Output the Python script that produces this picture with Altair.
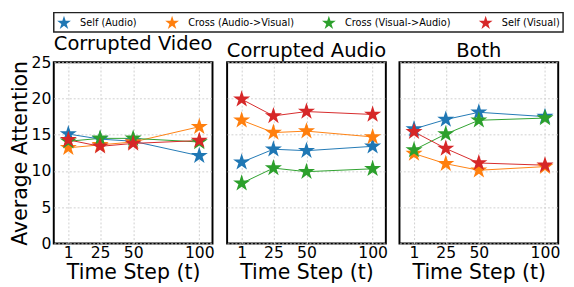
import altair as alt
import pandas as pd

panels = ["Corrupted Video", "Corrupted Audio", "Both"]
series = ["Self (Audio)", "Cross (Audio->Visual)", "Cross (Visual->Audio)", "Self (Visual)"]
colors = ["#1f77b4", "#ff7f0e", "#2ca02c", "#d62728"]
steps = [1, 25, 50, 100]
y_ticks = [0, 5, 10, 15, 20, 25]

video_self_audio = [15.1, 14.4, 14.1, 12.1]
video_cross_av = [13.2, 13.6, 14.0, 16.1]
video_cross_va = [14.1, 14.5, 14.5, 14.0]
video_self_visual = [14.3, 13.4, 13.8, 14.2]

audio_self_audio = [11.2, 13.0, 12.8, 13.4]
audio_cross_av = [17.0, 15.3, 15.5, 14.7]
audio_cross_va = [8.3, 10.4, 9.9, 10.3]
audio_self_visual = [19.9, 17.6, 18.2, 17.8]

both_self_audio = [15.8, 17.1, 18.1, 17.5]
both_cross_av = [12.4, 11.0, 10.1, 10.6]
both_cross_va = [12.9, 15.1, 17.0, 17.3]
both_self_visual = [15.4, 13.1, 11.1, 10.8]

panel_values = {
    "Corrupted Video": [video_self_audio, video_cross_av, video_cross_va, video_self_visual],
    "Corrupted Audio": [audio_self_audio, audio_cross_av, audio_cross_va, audio_self_visual],
    "Both": [both_self_audio, both_cross_av, both_cross_va, both_self_visual],
}

FONT = "DejaVu Sans"
STAR = ("M0,-1L0.2245,-0.309L0.9511,-0.309L0.3633,0.118L0.5878,0.809L0,0.382"
        "L-0.5878,0.809L-0.3633,0.118L-0.9511,-0.309L-0.2245,-0.309Z")


def panel_df(p):
    rows = []
    for s, vals in zip(series, panel_values[p]):
        for t, v in zip(steps, vals):
            rows.append({"series": s, "t": t, "value": v})
    return pd.DataFrame(rows)


def make_panel(name, first):
    x = alt.X("t:Q", scale=alt.Scale(domain=[-10, 110], nice=False),
              axis=alt.Axis(values=steps, title="Time Step (t)", labelFontSize=16,
                            titleFontSize=21, ticks=False, domain=False,
                            labelPadding=1, titlePadding=2))
    if first:
        yaxis = alt.Axis(values=y_ticks, title="Average Attention", labelFontSize=16,
                         titleFontSize=21, ticks=False, domain=False,
                         labelPadding=3, titlePadding=1)
    else:
        yaxis = alt.Axis(values=y_ticks, title="", labels=False, ticks=False, domain=False)
    y = alt.Y("value:Q", scale=alt.Scale(domain=[0, 25], nice=False), axis=yaxis)
    color = alt.Color(
        "series:N", scale=alt.Scale(domain=series, range=colors),
        legend=alt.Legend(title="", orient="top", direction="horizontal",
                          symbolType=STAR, symbolSize=220, labelFontSize=10,
                          columnPadding=28, labelOffset=9, strokeColor="#222",
                          padding=3, offset=1, symbolStrokeWidth=0),
    )
    data = panel_df(name)
    line = alt.Chart(data).mark_line(strokeWidth=1).encode(x=x, y=y, color=color)
    pts = alt.Chart(data).mark_point(shape=STAR, filled=True, size=340, opacity=1).encode(
        x=x, y=y, color=color)
    return alt.layer(line, pts, title=alt.TitleParams(name, fontSize=20, offset=1)).properties(
        width=163, height=186)


chart = alt.hconcat(
    make_panel(panels[0], True), make_panel(panels[1], False), make_panel(panels[2], False),
    spacing=10,
).properties(
    padding={"left": 0, "top": 0, "right": 2, "bottom": 0}
).configure_view(
    stroke="black", strokeWidth=2
).configure_axis(
    gridColor="#d0d0d0", gridDash=[2, 2], labelColor="black", titleColor="black",
    titleFontWeight="normal", labelFont=FONT, titleFont=FONT
).configure_title(
    fontWeight="normal", font=FONT
).configure_legend(
    labelFont=FONT, strokeWidth=1.5
)

chart.save("out.html", embed_options={"renderer": "svg", "actions": False})
